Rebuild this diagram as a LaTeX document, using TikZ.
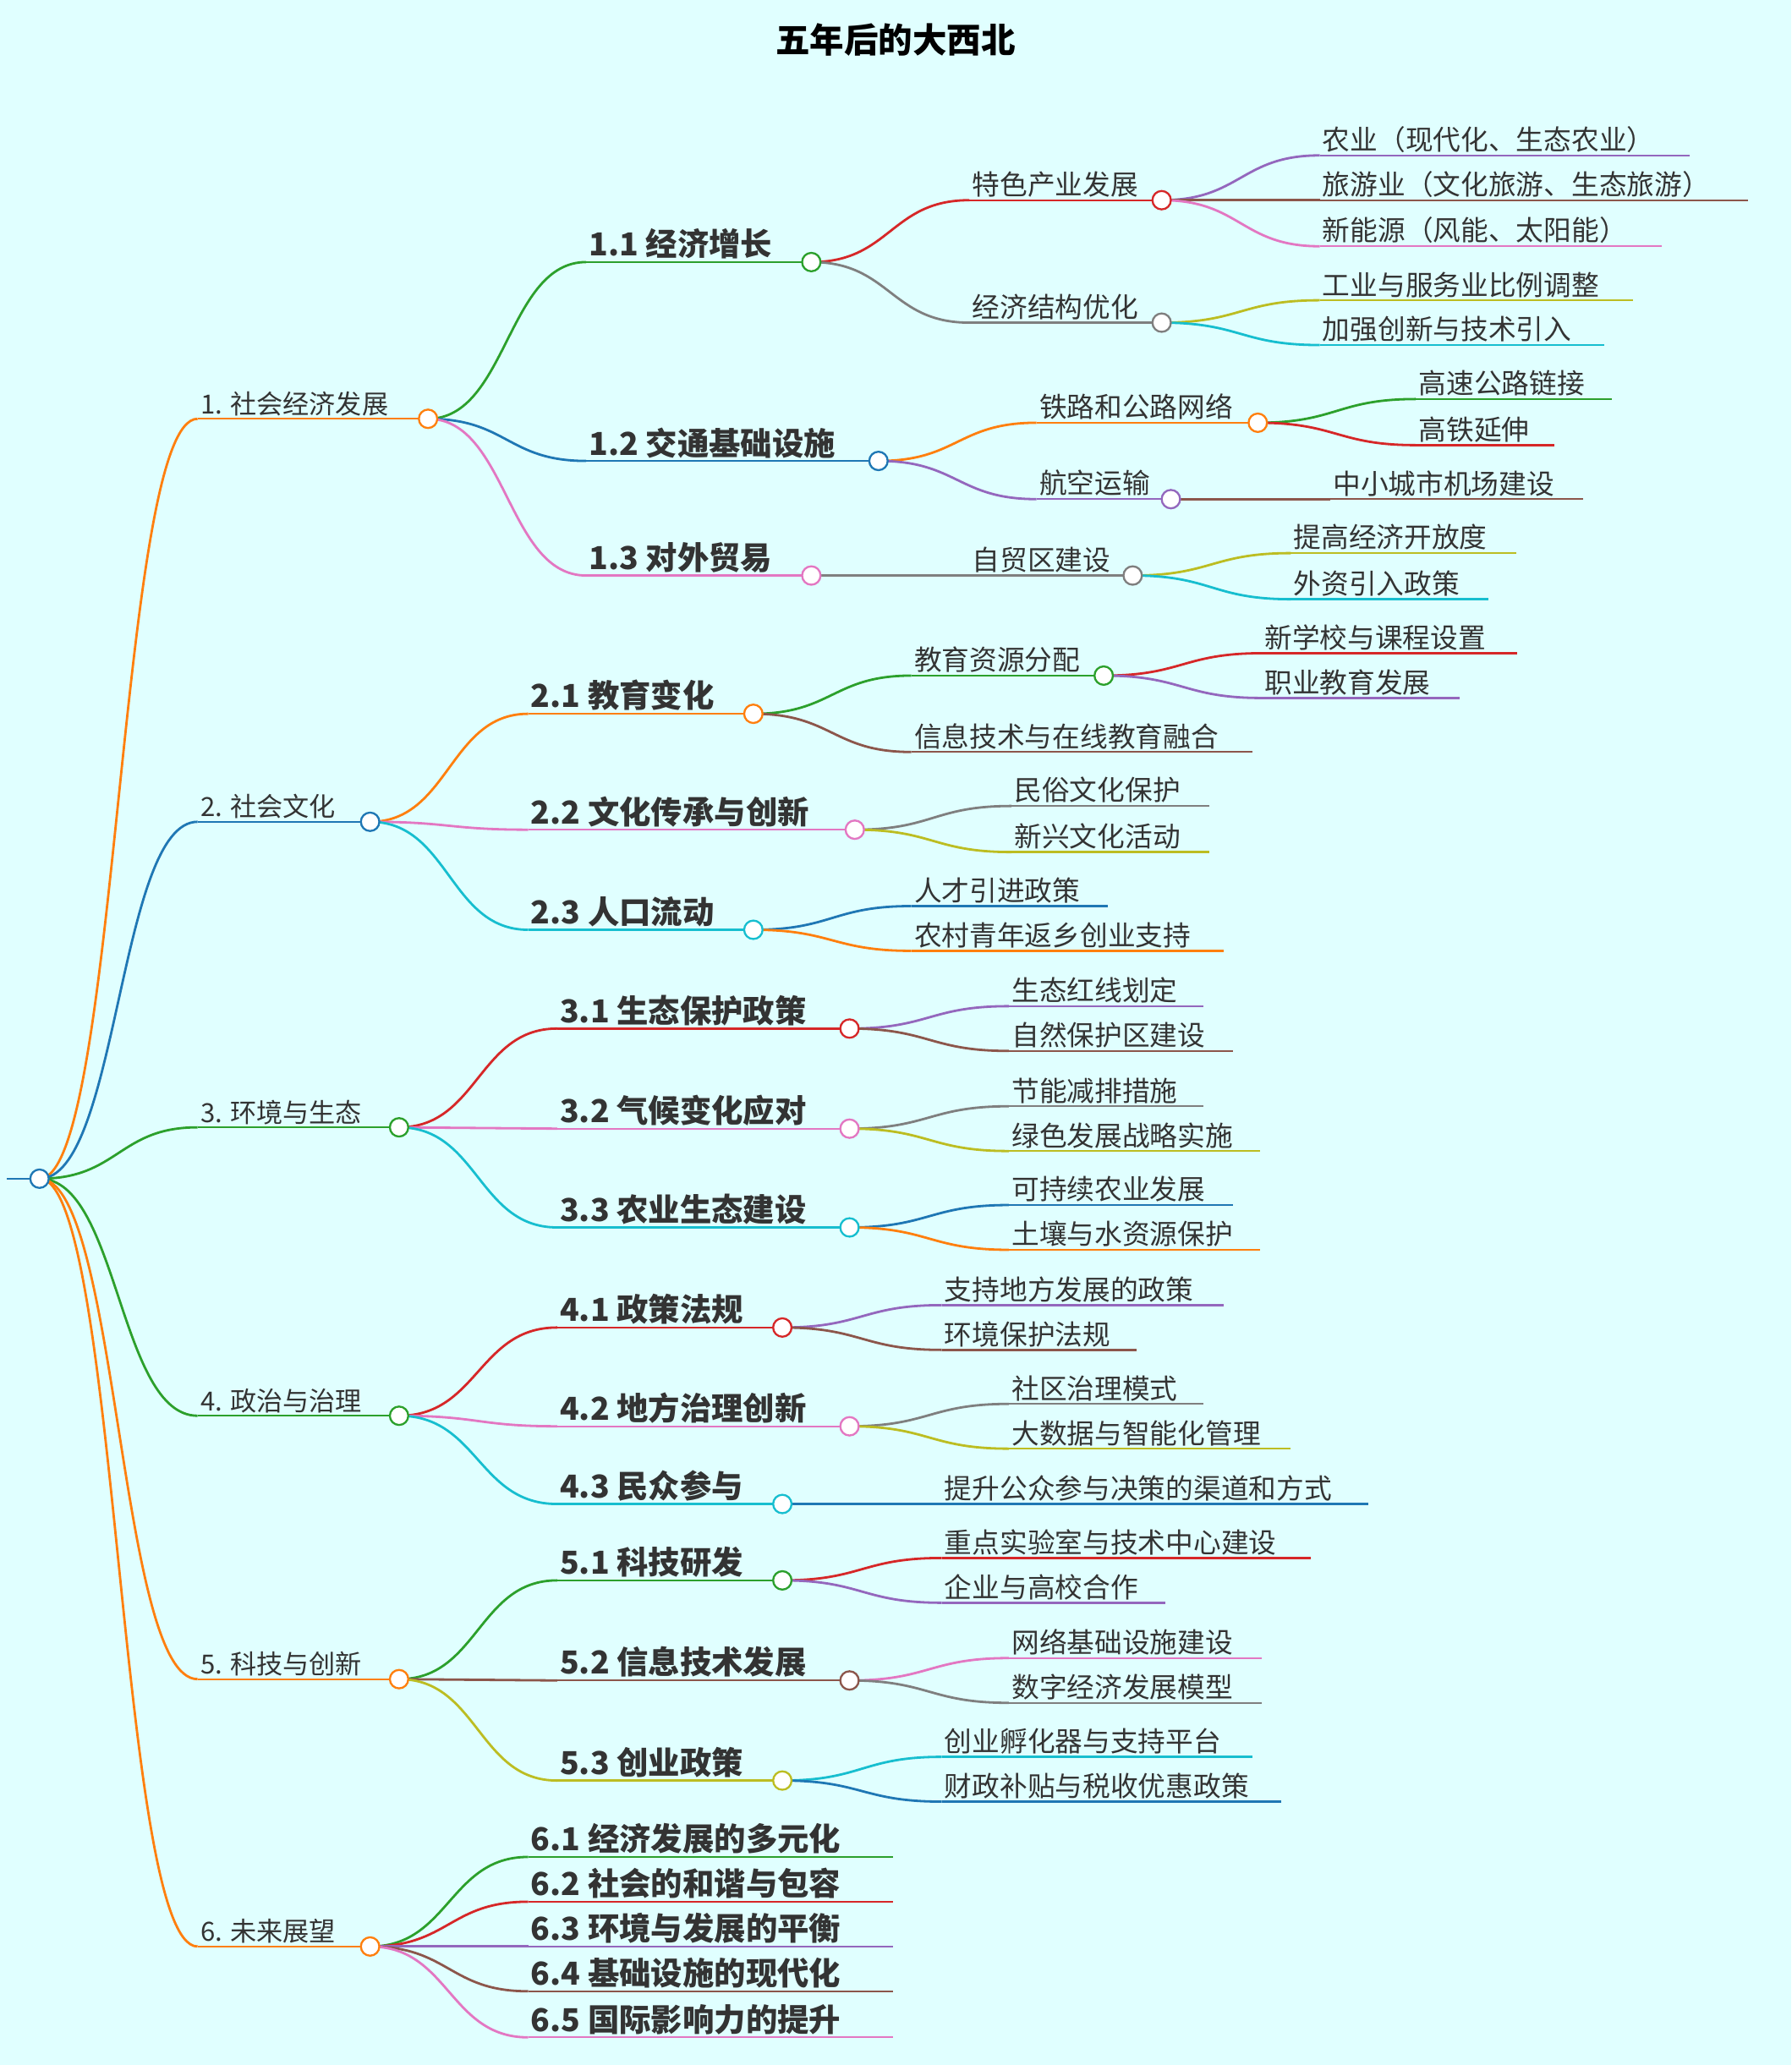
\documentclass[tikz,border=0pt]{standalone}
\usepackage{fontspec}
\setmainfont{Noto Sans CJK SC}
\usetikzlibrary{backgrounds,calc}
\definecolor{cO}{HTML}{FF7F0E}\definecolor{cB}{HTML}{1F77B4}\definecolor{cG}{HTML}{2CA02C}
\definecolor{cR}{HTML}{D62728}\definecolor{cP}{HTML}{9467BD}\definecolor{cN}{HTML}{8C564B}
\definecolor{cK}{HTML}{E377C2}\definecolor{cY}{HTML}{7F7F7F}\definecolor{cL}{HTML}{BCBD22}
\definecolor{cC}{HTML}{17BECF}\definecolor{bgc}{HTML}{E0FFFF}\definecolor{txt}{HTML}{333333}
\tikzset{
 circ/.style={circle,fill=white,line width=1.5pt,minimum size=14pt,inner sep=0pt},
 uline/.style={line width=1.5pt},
 conn/.style={line width=1.8pt},
 lvA/.style={anchor=south west,inner sep=2pt,font=\fontsize{20}{22}\selectfont,text=txt},
 lvB/.style={anchor=south west,inner sep=2pt,font=\fontsize{24}{26}\selectfont\bfseries,text=txt},
 lvC/.style={anchor=south west,inner sep=2pt,font=\fontsize{21}{23}\selectfont,text=txt},
}
\newcommand\inn[7]{\coordinate (#1s) at (#2,#4);
 \draw[#5,uline] (#1s) -- (#3,#4);
 \node[circ,draw=#5] (#1) at (#3,#4) {};
 \node[#6] (#1t) at (#1s) {#7};}
\newcommand\lf[7]{\coordinate (#1s) at (#2,#4);\coordinate (#1e) at (#3,#4);
 \draw[#5,uline] (#1s) -- (#1e);
 \node[#6] (#1t) at (#1s) {#7};}
\newcommand\lk[3]{\begin{scope}[on background layer]\draw[#3,conn] let \p1=(#1.center),\p2=(#2) in (\p1) .. controls ({(\x1+\x2)/2},{\y1}) and ({(\x1+\x2)/2},{\y2}) .. (\p2);\end{scope}}
\begin{document}
\begin{tikzpicture}[x=1pt,y=-1pt]
\begin{scope}[on background layer]\fill[bgc] (0,0) rectangle (1360,1568);\end{scope}
\useasboundingbox (0,0) rectangle (1360,1568);
\node[font=\fontsize{26}{28}\selectfont\bfseries,text=black] (title) at (680,30) {五年后的大西北};
% root
\coordinate (rs) at (5,895);
\draw[cB,uline] (rs) -- (30,895);
\node[circ,draw=cB] (r) at (30,895) {};
% level 1
\inn{a}{150}{325}{318}{cO}{lvA}{1. 社会经济发展}
\inn{b}{150}{281}{624}{cB}{lvA}{2. 社会文化}
\inn{c}{150}{303}{856}{cG}{lvA}{3. 环境与生态}
\inn{d}{150}{303}{1075}{cG}{lvA}{4. 政治与治理}
\inn{e}{150}{303}{1275}{cO}{lvA}{5. 科技与创新}
\inn{f}{150}{281}{1478}{cO}{lvA}{6. 未来展望}
\lk{r}{as}{cO}\lk{r}{bs}{cB}\lk{r}{cs}{cG}\lk{r}{ds}{cG}\lk{r}{es}{cO}\lk{r}{fs}{cO}
% 1
\inn{a1}{445}{616}{199}{cG}{lvB}{1.1 经济增长}
\inn{a2}{445}{667}{350}{cB}{lvB}{1.2 交通基础设施}
\inn{a3}{445}{616}{437}{cK}{lvB}{1.3 对外贸易}
\lk{a}{a1s}{cG}\lk{a}{a2s}{cB}\lk{a}{a3s}{cK}
\inn{a11}{736}{882}{152}{cR}{lvC}{特色产业发展}
\inn{a12}{736}{882}{245}{cY}{lvC}{经济结构优化}
\lk{a1}{a11s}{cR}\lk{a1}{a12s}{cY}
\lf{a111}{1002}{1283}{118}{cP}{lvC}{农业（现代化、生态农业）}
\lf{a112}{1002}{1327}{152}{cN}{lvC}{旅游业（文化旅游、生态旅游）}
\lf{a113}{1002}{1262}{187}{cK}{lvC}{新能源（风能、太阳能）}
\lk{a11}{a111s}{cP}\lk{a11}{a112s}{cN}\lk{a11}{a113s}{cK}
\lf{a121}{1002}{1240}{228}{cL}{lvC}{工业与服务业比例调整}
\lf{a122}{1002}{1218}{262}{cC}{lvC}{加强创新与技术引入}
\lk{a12}{a121s}{cL}\lk{a12}{a122s}{cC}
\inn{a21}{787}{955}{321}{cO}{lvC}{铁路和公路网络}
\inn{a22}{787}{889}{379}{cP}{lvC}{航空运输}
\lk{a2}{a21s}{cO}\lk{a2}{a22s}{cP}
\lf{a211}{1075}{1224}{303}{cG}{lvC}{高速公路链接}
\lf{a212}{1075}{1180}{338}{cR}{lvC}{高铁延伸}
\lk{a21}{a211s}{cG}\lk{a21}{a212s}{cR}
\lf{a221}{1010}{1202}{379}{cN}{lvC}{中小城市机场建设}
\lk{a22}{a221s}{cN}
\inn{a31}{736}{860}{437}{cY}{lvC}{自贸区建设}
\lk{a3}{a31s}{cY}
\lf{a311}{980}{1151}{420}{cL}{lvC}{提高经济开放度}
\lf{a312}{980}{1130}{455}{cC}{lvC}{外资引入政策}
\lk{a31}{a311s}{cL}\lk{a31}{a312s}{cC}
% 2
\inn{b1}{401}{572}{542}{cO}{lvB}{2.1 教育变化}
\inn{b2}{401}{649}{630}{cK}{lvB}{2.2 文化传承与创新}
\inn{b3}{401}{572}{706}{cC}{lvB}{2.3 人口流动}
\lk{b}{b1s}{cO}\lk{b}{b2s}{cK}\lk{b}{b3s}{cC}
\inn{b11}{692}{838}{513}{cG}{lvC}{教育资源分配}
\lf{b12}{692}{951}{571}{cN}{lvC}{信息技术与在线教育融合}
\lk{b1}{b11s}{cG}\lk{b1}{b12s}{cN}
\lf{b111}{958}{1152}{496}{cR}{lvC}{新学校与课程设置}
\lf{b112}{958}{1108}{530}{cP}{lvC}{职业教育发展}
\lk{b11}{b111s}{cR}\lk{b11}{b112s}{cP}
\lf{b21}{768}{918}{612}{cY}{lvC}{民俗文化保护}
\lf{b22}{768}{918}{647}{cL}{lvC}{新兴文化活动}
\lk{b2}{b21s}{cY}\lk{b2}{b22s}{cL}
\lf{b31}{692}{841}{688}{cB}{lvC}{人才引进政策}
\lf{b32}{692}{929}{722}{cO}{lvC}{农村青年返乡创业支持}
\lk{b3}{b31s}{cB}\lk{b3}{b32s}{cO}
% 3
\inn{c1}{423}{645}{781}{cR}{lvB}{3.1 生态保护政策}
\inn{c2}{423}{645}{857}{cK}{lvB}{3.2 气候变化应对}
\inn{c3}{423}{645}{932}{cC}{lvB}{3.3 农业生态建设}
\lk{c}{c1s}{cR}\lk{c}{c2s}{cK}\lk{c}{c3s}{cC}
\lf{c11}{766}{914}{764}{cP}{lvC}{生态红线划定}
\lf{c12}{766}{936}{798}{cN}{lvC}{自然保护区建设}
\lk{c1}{c11s}{cP}\lk{c1}{c12s}{cN}
\lf{c21}{766}{914}{840}{cY}{lvC}{节能减排措施}
\lf{c22}{766}{957}{874}{cL}{lvC}{绿色发展战略实施}
\lk{c2}{c21s}{cY}\lk{c2}{c22s}{cL}
\lf{c31}{766}{936}{915}{cB}{lvC}{可持续农业发展}
\lf{c32}{766}{957}{949}{cO}{lvC}{土壤与水资源保护}
\lk{c3}{c31s}{cB}\lk{c3}{c32s}{cO}
% 4
\inn{d1}{423}{594}{1008}{cR}{lvB}{4.1 政策法规}
\inn{d2}{423}{645}{1083}{cK}{lvB}{4.2 地方治理创新}
\inn{d3}{423}{594}{1142}{cC}{lvB}{4.3 民众参与}
\lk{d}{d1s}{cR}\lk{d}{d2s}{cK}\lk{d}{d3s}{cC}
\lf{d11}{715}{929}{991}{cP}{lvC}{支持地方发展的政策}
\lf{d12}{715}{863}{1025}{cN}{lvC}{环境保护法规}
\lk{d1}{d11s}{cP}\lk{d1}{d12s}{cN}
\lf{d21}{766}{914}{1066}{cY}{lvC}{社区治理模式}
\lf{d22}{766}{980}{1100}{cL}{lvC}{大数据与智能化管理}
\lk{d2}{d21s}{cY}\lk{d2}{d22s}{cL}
\lf{d31}{715}{1039}{1142}{cB}{lvC}{提升公众参与决策的渠道和方式}
\lk{d3}{d31s}{cB}
% 5
\inn{e1}{423}{594}{1200}{cG}{lvB}{5.1 科技研发}
\inn{e2}{423}{645}{1276}{cN}{lvB}{5.2 信息技术发展}
\inn{e3}{423}{594}{1352}{cL}{lvB}{5.3 创业政策}
\lk{e}{e1s}{cG}\lk{e}{e2s}{cN}\lk{e}{e3s}{cL}
\lf{e11}{715}{995}{1183}{cR}{lvC}{重点实验室与技术中心建设}
\lf{e12}{715}{885}{1217}{cP}{lvC}{企业与高校合作}
\lk{e1}{e11s}{cR}\lk{e1}{e12s}{cP}
\lf{e21}{766}{958}{1259}{cK}{lvC}{网络基础设施建设}
\lf{e22}{766}{958}{1293}{cY}{lvC}{数字经济发展模型}
\lk{e2}{e21s}{cK}\lk{e2}{e22s}{cY}
\lf{e31}{715}{951}{1334}{cC}{lvC}{创业孵化器与支持平台}
\lf{e32}{715}{973}{1368}{cB}{lvC}{财政补贴与税收优惠政策}
\lk{e3}{e31s}{cC}\lk{e3}{e32s}{cB}
% 6
\lf{f1}{401}{678}{1410}{cG}{lvB}{6.1 经济发展的多元化}
\lf{f2}{401}{678}{1444}{cR}{lvB}{6.2 社会的和谐与包容}
\lf{f3}{401}{678}{1478}{cP}{lvB}{6.3 环境与发展的平衡}
\lf{f4}{401}{678}{1512}{cN}{lvB}{6.4 基础设施的现代化}
\lf{f5}{401}{678}{1547}{cK}{lvB}{6.5 国际影响力的提升}
\lk{f}{f1s}{cG}\lk{f}{f2s}{cR}\lk{f}{f3s}{cP}\lk{f}{f4s}{cN}\lk{f}{f5s}{cK}
\end{tikzpicture}
\end{document}
